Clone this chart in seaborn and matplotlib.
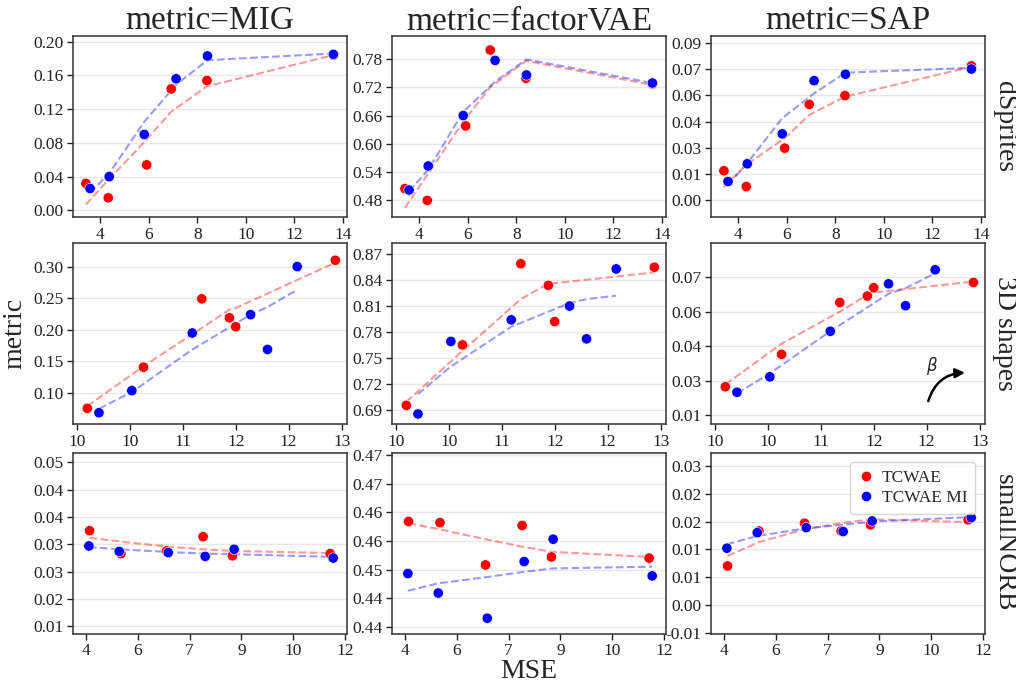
import numpy as np
import pandas as pd
import matplotlib
matplotlib.use("Agg")
import matplotlib.pyplot as plt
import seaborn as sns

# ---------------- data ----------------
datasets = ["dSprites", "3D shapes", "smallNORB"]
metrics = ["MIG", "factorVAE", "SAP"]
models = ["TCWAE", "TCWAE MI"]

# MSE (x) per dataset and model
mse_red = {
    "dSprites": [3.42, 4.34, 5.92, 6.93, 8.40, 13.60],
    "3D shapes": [10.10, 10.63, 11.18, 11.44, 11.50, 12.44],
    "smallNORB": [4.10, 5.01, 6.33, 7.39, 8.24, 11.07],
}
mse_blue = {
    "dSprites": [3.59, 4.38, 5.82, 7.13, 8.42, 13.60],
    "3D shapes": [10.21, 10.52, 11.09, 11.64, 11.80, 12.08],
    "smallNORB": [4.08, 4.96, 6.38, 7.45, 8.29, 11.16],
}

# metric values (points)
dsprites_mig_red = [0.032, 0.015, 0.054, 0.144, 0.154, 0.184]
dsprites_mig_blue = [0.026, 0.040, 0.090, 0.156, 0.183, 0.185]
dsprites_fvae_red = [0.505, 0.480, 0.638, 0.799, 0.739, 0.727]
dsprites_fvae_blue = [0.502, 0.553, 0.660, 0.777, 0.746, 0.729]
dsprites_sap_red = [0.0167, 0.0076, 0.0297, 0.0549, 0.0599, 0.0770]
dsprites_sap_blue = [0.0105, 0.0207, 0.0379, 0.0685, 0.0722, 0.0752]

shapes_mig_red = [0.076, 0.141, 0.249, 0.219, 0.205, 0.310]
shapes_mig_blue = [0.069, 0.104, 0.195, 0.224, 0.169, 0.300]
shapes_fvae_red = [0.695, 0.765, 0.859, 0.834, 0.792, 0.855]
shapes_fvae_blue = [0.685, 0.769, 0.794, 0.810, 0.772, 0.853]
shapes_sap_red = [0.0274, 0.0415, 0.0640, 0.0668, 0.0704, 0.0727]
shapes_sap_blue = [0.0250, 0.0317, 0.0515, 0.0721, 0.0626, 0.0782]

norb_mig_red = [0.0325, 0.0283, 0.0288, 0.0314, 0.0279, 0.0283]
norb_mig_blue = [0.0297, 0.0287, 0.0285, 0.0278, 0.0291, 0.0275]
norb_fvae_red = [0.4584, 0.4582, 0.4508, 0.4577, 0.4522, 0.4520]
norb_fvae_blue = [0.4493, 0.4459, 0.4415, 0.4514, 0.4553, 0.4489]
norb_sap_red = [0.0070, 0.0133, 0.0147, 0.0133, 0.0144, 0.0153]
norb_sap_blue = [0.0102, 0.0130, 0.0139, 0.0132, 0.0151, 0.0157]

# smoothed trend lines (at the same x positions)
dsprites_mig_fit_red = [0.007, 0.036, 0.084, 0.117, 0.147, 0.184]
dsprites_mig_fit_blue = [0.021, 0.044, 0.105, 0.149, 0.178, 0.186]
dsprites_fvae_fit_red = [0.464, 0.534, 0.654, 0.720, 0.776, 0.725]
dsprites_fvae_fit_blue = [0.499, 0.545, 0.668, 0.732, 0.779, 0.729]
dsprites_sap_fit_red = [0.0073, 0.0201, 0.0354, 0.0488, 0.0593, 0.0765]
dsprites_sap_fit_blue = [0.0086, 0.0211, 0.0469, 0.0612, 0.0731, 0.0759]

shapes_mig_fit_red = [0.0795, 0.1425, 0.2030, 0.2318, 0.2345, 0.3063]
shapes_mig_fit_blue = [0.0754, 0.1016, 0.1688, 0.2240, 0.2360, 0.2633]
shapes_fvae_fit_red = [0.699, 0.758, 0.818, 0.836, 0.8365, 0.849]
shapes_fvae_fit_blue = [0.708, 0.740, 0.786, 0.8135, 0.818, 0.822]
shapes_sap_fit_red = [0.0284, 0.0461, 0.0600, 0.0673, 0.0683, 0.0731]
shapes_sap_fit_blue = [0.0245, 0.0332, 0.0515, 0.0678, 0.0702, 0.0767]

norb_mig_fit_red = [0.0312, 0.0305, 0.0296, 0.0291, 0.0288, 0.0284]
norb_mig_fit_blue = [0.0295, 0.0291, 0.0286, 0.0283, 0.0282, 0.0277]
norb_fvae_fit_red = [0.4581, 0.4570, 0.4553, 0.4540, 0.4531, 0.4522]
norb_fvae_fit_blue = [0.4463, 0.4476, 0.4487, 0.4496, 0.4502, 0.4505]
norb_sap_fit_red = [0.0088, 0.0113, 0.0136, 0.0147, 0.0154, 0.0149]
norb_sap_fit_blue = [0.0109, 0.0124, 0.0138, 0.0144, 0.0150, 0.0158]

points = {
    ("dSprites", "MIG"): (dsprites_mig_red, dsprites_mig_blue),
    ("dSprites", "factorVAE"): (dsprites_fvae_red, dsprites_fvae_blue),
    ("dSprites", "SAP"): (dsprites_sap_red, dsprites_sap_blue),
    ("3D shapes", "MIG"): (shapes_mig_red, shapes_mig_blue),
    ("3D shapes", "factorVAE"): (shapes_fvae_red, shapes_fvae_blue),
    ("3D shapes", "SAP"): (shapes_sap_red, shapes_sap_blue),
    ("smallNORB", "MIG"): (norb_mig_red, norb_mig_blue),
    ("smallNORB", "factorVAE"): (norb_fvae_red, norb_fvae_blue),
    ("smallNORB", "SAP"): (norb_sap_red, norb_sap_blue),
}
fits = {
    ("dSprites", "MIG"): (dsprites_mig_fit_red, dsprites_mig_fit_blue),
    ("dSprites", "factorVAE"): (dsprites_fvae_fit_red, dsprites_fvae_fit_blue),
    ("dSprites", "SAP"): (dsprites_sap_fit_red, dsprites_sap_fit_blue),
    ("3D shapes", "MIG"): (shapes_mig_fit_red, shapes_mig_fit_blue),
    ("3D shapes", "factorVAE"): (shapes_fvae_fit_red, shapes_fvae_fit_blue),
    ("3D shapes", "SAP"): (shapes_sap_fit_red, shapes_sap_fit_blue),
    ("smallNORB", "MIG"): (norb_mig_fit_red, norb_mig_fit_blue),
    ("smallNORB", "factorVAE"): (norb_fvae_fit_red, norb_fvae_fit_blue),
    ("smallNORB", "SAP"): (norb_sap_fit_red, norb_sap_fit_blue),
}

# tick values / labels (labels as printed, with their rounding)
xticks = {
    "dSprites": ([4, 6, 8, 10, 12, 14], ["4", "6", "8", "10", "12", "14"]),
    "3D shapes": ([10.0, 10.5, 11.0, 11.5, 12.0, 12.5], ["10", "10", "11", "12", "12", "13"]),
    "smallNORB": ([4.0, 5.5, 7.0, 8.5, 10.0, 11.5], ["4", "6", "7", "9", "10", "12"]),
}
yticks = {
    ("dSprites", "MIG"): ([0.0, 0.04, 0.08, 0.12, 0.16, 0.20],
                          ["0.00", "0.04", "0.08", "0.12", "0.16", "0.20"]),
    ("dSprites", "factorVAE"): ([0.48, 0.54, 0.60, 0.66, 0.72, 0.78],
                                ["0.48", "0.54", "0.60", "0.66", "0.72", "0.78"]),
    ("dSprites", "SAP"): ([0.0, 0.015, 0.03, 0.045, 0.06, 0.075, 0.09],
                          ["0.00", "0.01", "0.03", "0.04", "0.06", "0.07", "0.09"]),
    ("3D shapes", "MIG"): ([0.10, 0.15, 0.20, 0.25, 0.30],
                           ["0.10", "0.15", "0.20", "0.25", "0.30"]),
    ("3D shapes", "factorVAE"): ([0.69, 0.72, 0.75, 0.78, 0.81, 0.84, 0.87],
                                 ["0.69", "0.72", "0.75", "0.78", "0.81", "0.84", "0.87"]),
    ("3D shapes", "SAP"): ([0.015, 0.03, 0.045, 0.06, 0.075],
                           ["0.01", "0.03", "0.04", "0.06", "0.07"]),
    ("smallNORB", "MIG"): ([0.015, 0.02, 0.025, 0.03, 0.035, 0.04, 0.045],
                           ["0.01", "0.02", "0.03", "0.03", "0.04", "0.04", "0.05"]),
    ("smallNORB", "factorVAE"): ([0.44, 0.445, 0.45, 0.455, 0.46, 0.465, 0.47],
                                 ["0.44", "0.44", "0.45", "0.46", "0.46", "0.47", "0.47"]),
    ("smallNORB", "SAP"): ([-0.005, 0.0, 0.005, 0.01, 0.015, 0.02, 0.025],
                           ["-0.01", "0.00", "0.01", "0.01", "0.02", "0.02", "0.03"]),
}
xlims = {"dSprites": (2.89, 14.16), "3D shapes": (9.965, 12.55), "smallNORB": (3.62, 11.56)}
ylims = {
    ("dSprites", "MIG"): (-0.0078, 0.2067),
    ("dSprites", "factorVAE"): (0.4448, 0.8287),
    ("dSprites", "SAP"): (-0.0099, 0.0942),
    ("3D shapes", "MIG"): (0.0507, 0.3368),
    ("3D shapes", "factorVAE"): (0.673, 0.8827),
    ("3D shapes", "SAP"): (0.0111, 0.0897),
    ("smallNORB", "MIG"): (0.01366, 0.04676),
    ("smallNORB", "factorVAE"): (0.4388, 0.4704),
    ("smallNORB", "SAP"): (-0.0052, 0.0274),
}

# ---------------- build long tables ----------------
rows_pts, rows_fit = [], []
for ds in datasets:
    for m in metrics:
        pr, pb = points[(ds, m)]
        fr, fb = fits[(ds, m)]
        for x, y, f in zip(mse_red[ds], pr, fr):
            rows_pts.append((ds, m, "TCWAE", x, y))
            rows_fit.append((ds, m, "TCWAE", x, f))
        for x, y, f in zip(mse_blue[ds], pb, fb):
            rows_pts.append((ds, m, "TCWAE MI", x, y))
            rows_fit.append((ds, m, "TCWAE MI", x, f))
cols = ["dataset", "metric", "model", "MSE", "value"]
df_pts = pd.DataFrame(rows_pts, columns=cols)
df_fit = pd.DataFrame(rows_fit, columns=cols)

palette = {"TCWAE": "#ff0000", "TCWAE MI": "#0000ff"}

# ---------------- style ----------------
sns.set_style("ticks")
plt.rcParams["font.family"] = ["Liberation Serif", "DejaVu Serif"]
plt.rcParams["mathtext.fontset"] = "dejavusans"

W, H = 1016, 688
fig = plt.figure(figsize=(W / 100, H / 100), dpi=100)

col_left = [73, 392, 711]
col_w = 274
row_top = [36, 243.3, 452.7]
row_h = 181

axes = {}
for i, ds in enumerate(datasets):
    for j, m in enumerate(metrics):
        ax = fig.add_axes([col_left[j] / W, 1 - (row_top[i] + row_h) / H, col_w / W, row_h / H])
        axes[(ds, m)] = ax
        sub_fit = df_fit[(df_fit.dataset == ds) & (df_fit.metric == m)]
        sub_pts = df_pts[(df_pts.dataset == ds) & (df_pts.metric == m)]
        sns.lineplot(data=sub_fit, x="MSE", y="value", hue="model", hue_order=models,
                     palette=palette, estimator=None, sort=True, ax=ax, legend=False,
                     linestyle="--", alpha=0.4, linewidth=1.5)
        show_leg = (ds == "smallNORB" and m == "SAP")
        sns.scatterplot(data=sub_pts, x="MSE", y="value", hue="model", hue_order=models,
                        palette=palette, s=55, edgecolor="white", linewidth=0.4, ax=ax,
                        legend=show_leg, zorder=3)
        xt, xl = xticks[ds]
        ax.set_xticks(xt)
        ax.set_xticklabels(xl)
        yt, yl = yticks[(ds, m)]
        ax.set_yticks(yt)
        ax.set_yticklabels(yl)
        ax.set_xlim(*xlims[ds])
        ax.set_ylim(*ylims[(ds, m)])
        ax.yaxis.grid(True, color="#e8e8e8", linewidth=1.0)
        ax.set_axisbelow(True)
        for sp in ax.spines.values():
            sp.set_visible(True)
            sp.set_color("#333333")
            sp.set_linewidth(1.1)
        ax.tick_params(labelsize=12.5, colors="#222222", length=4, width=1, pad=3)
        ax.set_xlabel("")
        ax.set_ylabel("")
        if i == 0:
            ax.set_title(f"metric={m}", fontsize=24, pad=5)
        if j == 2:
            ax.text(1.025, 0.5, ds, transform=ax.transAxes, rotation=270,
                    va="center", ha="left", fontsize=20)
        if show_leg:
            leg = ax.legend(loc="upper right", fontsize=12.5, frameon=True,
                            handlelength=0.9, handletextpad=0.5, borderpad=0.45,
                            borderaxespad=0.55, fancybox=True, labelspacing=0.2)
            leg.get_frame().set_edgecolor("#cccccc")

axes[("3D shapes", "MIG")].set_ylabel("metric", fontsize=20, labelpad=4)
axes[("smallNORB", "factorVAE")].set_xlabel("MSE", fontsize=20, labelpad=0)

# beta arrow annotation
ax_b = axes[("3D shapes", "SAP")]
ax_b.annotate("", xy=(0.927, 0.285), xytext=(0.793, 0.128), xycoords="axes fraction",
              textcoords="axes fraction",
              arrowprops=dict(arrowstyle="-|>", color="black", lw=1.8, mutation_scale=14,
                              connectionstyle="arc3,rad=-0.35", shrinkA=0, shrinkB=0))
ax_b.text(0.808, 0.32, r"$\beta$", transform=ax_b.transAxes, fontsize=12,
          ha="center", va="center")

fig.savefig("out.png", dpi=100)
